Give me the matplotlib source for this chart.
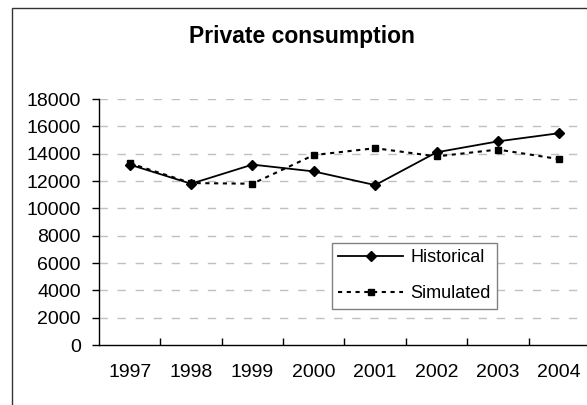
import matplotlib
matplotlib.use('Agg')
import matplotlib.pyplot as plt
from matplotlib.patches import Rectangle
from matplotlib.ticker import MultipleLocator

years = ['1997', '1998', '1999', '2000', '2001', '2002', '2003', '2004']
historical = [13200, 11800, 13200, 12700, 11700, 14100, 14900, 15500]
simulated = [13300, 11850, 11800, 13900, 14400, 13800, 14300, 13600]

plt.rcParams['font.family'] = ['Liberation Sans', 'DejaVu Sans']

W, H = 587, 405
fig = plt.figure(figsize=(W / 100, H / 100), dpi=100)

# outer chart border (clipped on the right and bottom like the source)
fig.patches.append(Rectangle((12 / W, -0.2), 1.2, 1.2 - 8 / H,
                             transform=fig.transFigure, fill=False,
                             edgecolor='#333333', linewidth=1.0))

ax = fig.add_axes([99 / W, 60 / H, 491 / W, 246 / H])
x = list(range(len(years)))

ax.plot(x, historical, color='black', linewidth=1.3, marker='D',
        markersize=5.5, label='Historical')
ax.plot(x, simulated, color='black', linewidth=1.5, linestyle=(0, (2, 2.2)),
        marker='s', markersize=5, label='Simulated')

ax.set_xlim(-0.5, 7.5)
ax.set_ylim(0, 18000)
ax.yaxis.set_major_locator(MultipleLocator(2000))
ax.set_xticks(x)
ax.set_xticklabels(years)
ax.set_xticks([i + 0.5 for i in range(7)], minor=True)
ax.tick_params(axis='x', which='major', length=0, pad=14, labelsize=14)
ax.tick_params(axis='x', which='minor', direction='in', length=5, width=1)
ax.tick_params(axis='y', direction='out', length=5, width=1, pad=8, labelsize=14)

for v in range(2000, 18001, 2000):
    ax.axhline(v, color='#c0c0c0', linewidth=1, linestyle=(0, (6, 7)), zorder=0)

for s in ['top', 'right']:
    ax.spines[s].set_visible(False)
for s in ['left', 'bottom']:
    ax.spines[s].set_linewidth(1)
ax.patch.set_alpha(0)

fig.text(302 / W, 1 - 37 / H, 'Private consumption', ha='center', va='center',
         fontsize=16.5, fontweight='bold')

leg = ax.legend(loc='upper left', bbox_to_anchor=(332 / W, 1 - 243 / H),
                bbox_transform=fig.transFigure, borderaxespad=0,
                fontsize=13, handlelength=3.6, handletextpad=0.4,
                labelspacing=1.05, borderpad=0.35, fancybox=False,
                framealpha=1, edgecolor='#808080')
leg.get_frame().set_linewidth(1)

fig.savefig('out.png', dpi=100)
